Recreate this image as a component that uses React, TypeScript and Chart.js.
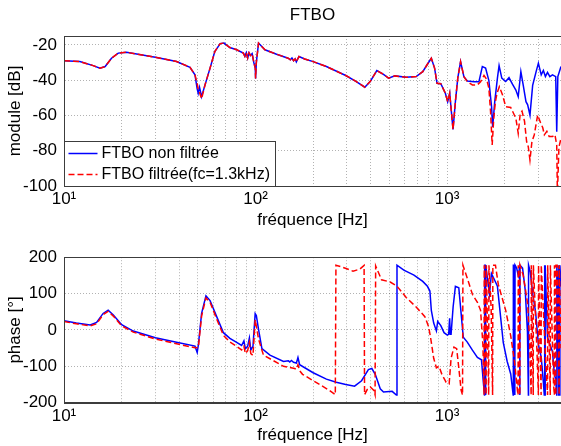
import React, { useEffect, useRef } from 'react';
import { Chart, registerables } from 'chart.js';

Chart.register(...registerables);

const FONT = '"Liberation Sans", Arial, Helvetica, sans-serif';

// ---- axis ticks ----
const freqGridTicks = [10, 20, 30, 40, 50, 60, 70, 80, 90, 100, 200, 300, 400, 500, 600, 700, 800, 900, 1000, 2000, 3000];
const freqTickLabels: Record<number, string> = { 10: '10¹', 100: '10²', 1000: '10³' };
const magTicks = [-100, -80, -60, -40, -20];
const phaseTicks = [-200, -100, 0, 100, 200];

const seriesLabels = ['FTBO non filtrée', 'FTBO filtrée(fc=1.3kHz)'];

// ---- magnitude [Hz, dB] ----
const magBlue: [number, number][] = [
  [10, -29], [12.1, -29.5], [14.2, -31.8], [15.4, -33.2], [16.4, -32.3], [17.7, -27.6], [19.2, -24.7], [21.2, -24.2],
  [30, -27], [38.7, -29.5], [45.5, -32.7], [48.3, -37], [49.6, -45], [50.2, -47.5], [51, -44], [52.3, -49.4],
  [54.5, -42.7], [57.9, -33.2], [61.3, -23.8], [65.4, -19.3], [68.5, -19], [73.4, -21.5], [79.7, -22.8], [86.4, -24.7],
  [88, -26.5], [89.5, -24.5], [91, -27.5], [92.5, -24.5], [94, -26], [96, -25], [98, -30], [99.7, -33.2],
  [100.1, -39], [101, -30], [103.7, -19], [112, -22.8], [128.8, -25.3], [148, -27.6], [152, -28.5], [155, -27.5],
  [158, -29], [161, -28], [163.4, -29.7], [168.6, -26.6], [180.6, -28], [200, -29.5], [234.5, -32.3], [296, -37.4],
  [336, -40.8], [372, -44], [397, -40.8], [430, -34.6], [466, -36.7], [495, -38.9], [534, -37.6], [612, -38.4],
  [690, -38], [747, -35.2], [790, -31], [828, -27.6], [861, -33.2], [887, -41.8], [928, -42], [980, -47.4],
  [1008, -52.2], [1033, -47.4], [1050, -56], [1075, -68], [1106, -52.2], [1138, -38.9], [1177, -29.5], [1225, -38],
  [1276, -40.5], [1384, -40.9], [1468, -40.9], [1529, -32.3], [1590, -33.2], [1654, -40.3], [1708, -55], [1731, -66.5],
  [1775, -52.2], [1833, -38.9], [1870, -31.8], [1932, -38.9], [2025, -40.8], [2107, -38.6], [2196, -42.3], [2288, -45.6],
  [2354, -49.4], [2430, -35.2], [2501, -43], [2584, -52.2], [2637, -54], [2711, -59.8], [2800, -43], [2919, -35.2],
  [3000, -30.4], [3104, -37], [3185, -34.5], [3264, -38], [3347, -35.6], [3443, -38], [3554, -37], [3695, -38],
  [3740, -69.3], [3790, -38], [3937, -32.3],
];

const magRed: [number, number][] = [
  [10, -29], [12.1, -29.5], [14.2, -31.8], [15.4, -33.2], [16.4, -32.3], [17.7, -27.6], [19.2, -24.7], [21.2, -24.2],
  [30, -27], [38.7, -29.5], [45.5, -32.7], [48.3, -37], [49.6, -42], [50.2, -45], [51, -47], [52.3, -50.5],
  [54.5, -42.7], [57.9, -33.2], [61.3, -23.8], [65.4, -19.3], [68.5, -19], [73.4, -21.5], [79.7, -22.8], [86.4, -24.7],
  [88, -26.5], [89.5, -24.5], [91, -27.5], [92.5, -24.5], [94, -26], [96, -25], [98, -30], [99.7, -33.2],
  [100.1, -39], [101, -30], [103.7, -19], [112, -22.8], [128.8, -25.3], [148, -27.6], [152, -28.5], [155, -27.5],
  [158, -29], [161, -28], [163.4, -29.7], [168.6, -26.6], [180.6, -28], [200, -29.5], [234.5, -32.3], [296, -37.4],
  [336, -40.8], [372, -44], [397, -40.8], [430, -34.6], [466, -36.7], [495, -38.9], [534, -37.6], [612, -38.4],
  [690, -38], [747, -35.2], [790, -31], [828, -27.6], [861, -33.2], [887, -41.8], [928, -42], [980, -47.4],
  [1008, -52.2], [1033, -47.4], [1050, -56], [1075, -68], [1106, -52.2], [1138, -38.9], [1177, -29.5], [1225, -38],
  [1276, -40.9], [1357, -42.7], [1441, -42.7], [1497, -40.9], [1560, -37.4], [1612, -39.6], [1654, -44.6], [1688, -57.9],
  [1721, -76.8], [1754, -61.6], [1789, -52.2], [1825, -47.4], [1876, -43.7], [1948, -48.3], [2025, -55], [2151, -55.5],
  [2288, -61.6], [2354, -70.2], [2412, -58.8], [2463, -57.6], [2539, -63.3], [2604, -74.9], [2657, -77.8], [2711, -85.3],
  [2775, -74.9], [2853, -71.1], [2974, -59.8], [3076, -64], [3162, -67], [3223, -71], [3322, -69], [3415, -72],
  [3554, -72], [3660, -71], [3740, -76.8], [3770, -105], [3840, -78], [3937, -73],
];

// ---- phase [Hz, deg] ----
const phaseBlue: [number, number][] = [
  [10, 25], [11.6, 19], [13.7, 13.7], [14.8, 20.7], [16, 45.4], [17, 54.2], [18.1, 41], [20, 14.5], [23, -3], [30, -21.6],
  [38.7, -33.9], [48.3, -44.5], [49.6, -62], [50.3, -41], [52.3, 45.4], [55.1, 94], [57.9, 80.6], [62.7, 36.6], [68, -7.5], [73.5, -23.3],
  [79.7, -33.9], [84.6, -42.7], [87, -30], [88.5, -51.5], [91, -45], [92.9, -22], [94.5, -55], [97, -45], [99.6, 45], [101, 40],
  [103.7, 1.3], [108, -51.5], [119, -69.2], [140, -86.8], [148.5, -85], [151, -88], [154, -84], [158, -89], [163.5, -91], [166.6, -76],
  [170, -95.6], [200, -117.6], [234.5, -135.2], [264, -144], [296, -150], [329, -154.6], [358, -139.6], [388.5, -108.8], [405, -106], [422, -122],
  [448, -161.7], [466, -170.5], [517, -168.7], [544, -179], [548, 178], [595, 164.3], [672, 151], [747, 133.5], [790, 120], [814, 107],
  [828, 54], [852, 19], [880, -2.6], [894, 23.4], [928, 12], [965, -7.5], [1004, -14], [1020, -12], [1032, 32], [1040, -12],
  [1050, -12], [1076, 63], [1106, 120], [1152, 116], [1185, 45], [1216, -20], [1276, -33.5], [1357, -55.6], [1441, -75.8], [1513, -82],
  [1550, -148], [1569, -179], [1572, 178], [1585, 178], [1588, -179], [1592, -179], [1595, 178], [1626, 142], [1666, 98], [1706, 155],
  [1754, 142], [1833, 120], [1966, -34], [2060, -86], [2151, -121], [2215, -179], [2220, 178], [2255, 178], [2260, -179], [2266, 178],
  [2310, 170], [2354, 150], [2395, 173], [2400, -179], [2405, 178], [2480, 170], [2560, 110], [2630, -5], [2660, -179], [2665, 178],
  [2720, 160], [2800, 100], [2900, 50], [3000, -40], [3104, -75], [3180, -140], [3220, -179], [3226, 178], [3245, 178], [3250, -179],
  [3256, 178], [3347, -20], [3450, -40], [3554, -60], [3620, -110], [3695, -140], [3740, -179], [3745, 178], [3790, 100], [3830, -179],
  [3835, 178], [3880, -179], [3885, 178], [3937, 120],
];

const phaseRed: [number, number][] = [
  [10, 23], [11.6, 17], [13.7, 11], [14.8, 17], [16, 42], [17, 51], [18.1, 38], [20, 11], [23, -6], [30, -25],
  [38.7, -38], [48.3, -49], [50.3, -48], [52.3, 38], [55.1, 88], [57.9, 76], [62.7, 30], [68, -15], [73.5, -33], [79.7, -45],
  [84.6, -55], [87, -45], [88.5, -65], [91, -57], [92.9, -35], [94.5, -65], [97, -70], [99.6, 28], [101, 10], [103.7, -25],
  [110, -69], [140, -100], [160, -106], [163.5, -108], [166.6, -95.6], [170, -112], [176, -122], [207, -144], [243, -166], [261, -178],
  [263, 178], [292, 170.5], [323, 161.7], [350, 167], [369, 177.5], [371, -178], [383, -164], [398, -157], [415, -166], [421, -178],
  [424, 176], [455, 138], [505, 131.8], [548, 120.3], [612, 89.4], [690, 63], [766, 36.6], [800, 10], [818, -16], [852, -78],
  [880, -104], [908, -100], [940, -122], [990, -144], [1026, -148], [1050, -78], [1087, -47], [1123, -51.5], [1152, -104], [1185, -166],
  [1205, -179], [1211, 178], [1276, 142], [1357, 98], [1441, 76], [1497, 54], [1540, -42], [1560, -179], [1565, 178], [1600, -179],
  [1605, 178], [1650, -179], [1655, 178], [1700, 60], [1730, -179], [1735, 178], [1790, 178], [1853, 125], [2025, 54], [2151, -16],
  [2250, -86], [2330, -165], [2350, -179], [2355, 178], [2400, -179], [2405, 178], [2500, 150], [2637, 72], [2700, -30], [2750, -179],
  [2755, 178], [2820, -179], [2825, 178], [2950, -60], [3000, -179], [3005, 178], [3100, -179], [3105, 178], [3300, -120], [3350, -179],
  [3355, 178], [3460, -179], [3465, 178], [3600, -150], [3635, -179], [3640, 178], [3700, -179], [3705, 178], [3760, 178], [3850, -179],
  [3855, 178], [3937, -50],
];

const BLUE = '#0000ff';
const RED = '#ff0000';
const GRID = 'rgba(0,0,0,0.3)';
const FRAME = '#3c3c3c';

function toPoints(arr: [number, number][]) {
  return arr.map(([x, y]) => ({ x, y }));
}

function datasets(blue: [number, number][], red: [number, number][]) {
  return [
    {
      label: seriesLabels[1],
      data: toPoints(red),
      borderColor: RED,
      borderDash: [6, 3],
      borderWidth: 1.5,
      pointRadius: 0,
      fill: false,
      tension: 0,
    },
    {
      label: seriesLabels[0],
      data: toPoints(blue),
      borderColor: BLUE,
      borderWidth: 1.5,
      pointRadius: 0,
      fill: false,
      tension: 0,
    },
  ];
}

const framePlugin = (drawLegend: boolean) => ({
  id: 'matlabFrame',
  afterDatasetsDraw(chart: any) {
    const { ctx, chartArea: a } = chart;
    ctx.save();
    ctx.setLineDash([]);
    ctx.strokeStyle = FRAME;
    ctx.lineWidth = 1;
    const l = Math.round(a.left) + 0.5;
    const t = Math.round(a.top) + 0.5;
    const r = Math.round(a.right) + 0.5;
    const b = Math.round(a.bottom) + 0.5;
    ctx.strokeRect(l, t, r - l, b - t);
    if (drawLegend) {
      const bx = l;
      const bw = 211;
      const bh = 45;
      const by = b - bh;
      ctx.fillStyle = '#ffffff';
      ctx.fillRect(bx, by, bw, bh);
      ctx.strokeStyle = FRAME;
      ctx.strokeRect(bx, by, bw, bh);
      const rows = [
        { y: by + 12, color: BLUE, dash: [] as number[], text: seriesLabels[0] },
        { y: by + 33, color: RED, dash: [6, 3], text: seriesLabels[1] },
      ];
      ctx.font = `16px ${FONT}`;
      ctx.textBaseline = 'middle';
      ctx.textAlign = 'left';
      for (const row of rows) {
        ctx.strokeStyle = row.color;
        ctx.lineWidth = 1.5;
        ctx.setLineDash(row.dash);
        ctx.beginPath();
        ctx.moveTo(bx + 4, row.y);
        ctx.lineTo(bx + 33, row.y);
        ctx.stroke();
        ctx.setLineDash([]);
        ctx.fillStyle = '#000';
        ctx.fillText(row.text, bx + 37, row.y);
      }
    }
    ctx.restore();
  },
});

function makeConfig(p: {
  blue: [number, number][];
  red: [number, number][];
  yMin: number;
  yMax: number;
  yTicks: number[];
  yTitle: string;
  padTop: number;
  xAxisHeight: number;
  xTitlePadBottom: number;
  title?: string;
  legend: boolean;
}): any {
  const tickFont = { family: FONT, size: 17 };
  return {
    type: 'line',
    data: { datasets: datasets(p.blue, p.red) },
    options: {
      responsive: false,
      animation: false,
      events: [],
      layout: { padding: { top: p.title ? 0 : p.padTop, left: 0, right: 0, bottom: 0 } },
      plugins: {
        legend: { display: false },
        tooltip: { enabled: false },
        title: p.title
          ? {
              display: true,
              text: p.title,
              fullSize: false,
              color: '#000',
              font: { family: FONT, size: 17, weight: 'normal' },
              padding: { top: 5, bottom: p.padTop - 5 - 20.4 },
            }
          : { display: false },
      },
      scales: {
        x: {
          type: 'logarithmic',
          min: 10,
          max: 3937,
          afterBuildTicks: (s: any) => {
            s.ticks = freqGridTicks.map((v) => ({ value: v }));
          },
          afterFit: (s: any) => {
            s.height = p.xAxisHeight;
          },
          ticks: {
            autoSkip: false,
            maxRotation: 0,
            padding: 3,
            color: '#000',
            font: tickFont,
            callback: (v: any) => freqTickLabels[Number(v)] ?? '',
          },
          grid: { color: GRID, lineWidth: 1, drawTicks: false },
          border: { display: true, color: FRAME, dash: [1, 2] },
          title: {
            display: true,
            text: 'fréquence [Hz]',
            color: '#000',
            font: { family: FONT, size: 17 },
            padding: { top: 0, bottom: p.xTitlePadBottom },
          },
        },
        y: {
          type: 'linear',
          min: p.yMin,
          max: p.yMax,
          afterBuildTicks: (s: any) => {
            s.ticks = p.yTicks.map((v) => ({ value: v }));
          },
          afterFit: (s: any) => {
            s.width = 64;
          },
          ticks: {
            autoSkip: false,
            padding: 7,
            color: '#000',
            font: tickFont,
            callback: (v: any) => String(v),
          },
          grid: { color: GRID, lineWidth: 1, drawTicks: false },
          border: { display: true, color: FRAME, dash: [1, 2] },
          title: {
            display: true,
            text: p.yTitle,
            color: '#000',
            font: { family: FONT, size: 17 },
            padding: { top: 5, bottom: 0 },
          },
        },
      },
    },
    plugins: [framePlugin(p.legend)],
  };
}

export default function App() {
  const topRef = useRef<HTMLCanvasElement | null>(null);
  const botRef = useRef<HTMLCanvasElement | null>(null);

  useEffect(() => {
    const top = new Chart(
      topRef.current as HTMLCanvasElement,
      makeConfig({
        blue: magBlue,
        red: magRed,
        yMin: -100,
        yMax: -15,
        yTicks: magTicks,
        yTitle: 'module [dB]',
        padTop: 36,
        xAxisHeight: 54,
        xTitlePadBottom: 9,
        title: 'FTBO',
        legend: true,
      })
    );
    const bot = new Chart(
      botRef.current as HTMLCanvasElement,
      makeConfig({
        blue: phaseBlue,
        red: phaseRed,
        yMin: -200,
        yMax: 200,
        yTicks: phaseTicks,
        yTitle: 'phase [°]',
        padTop: 11.5,
        xAxisHeight: 43.3,
        xTitlePadBottom: 0,
        legend: false,
      })
    );
    return () => {
      top.destroy();
      bot.destroy();
    };
  }, []);

  return (
    <div style={{ position: 'absolute', left: 0, top: 0, width: 561, height: 446, background: '#ffffff' }}>
      <canvas ref={topRef} width={561} height={240} style={{ position: 'absolute', left: 0, top: 0 }} />
      <canvas ref={botRef} width={561} height={206} style={{ position: 'absolute', left: 0, top: 240 }} />
    </div>
  );
}
